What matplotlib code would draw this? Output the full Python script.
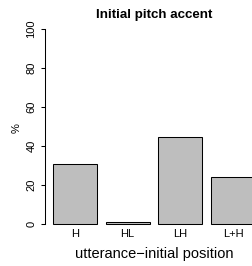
import matplotlib
matplotlib.use("Agg")
import matplotlib.pyplot as plt

categories = ["H", "HL", "LH", "L+H"]
values = [30.8, 0.9, 44.6, 24.1]
yticks = [0, 20, 40, 60, 80, 100]

plt.rcParams['font.family'] = ['Liberation Sans', 'DejaVu Sans']

W, H = 253, 266
fig = plt.figure(figsize=(W / 100, H / 100), dpi=100)

left_px, right_px = 44.9, 263.0
top_px, bottom_px = 21.2, 231.8
ax = fig.add_axes([left_px / W, 1 - bottom_px / H,
                   (right_px - left_px) / W, (bottom_px - top_px) / H])

xpos = [0.7 + 1.2 * i for i in range(len(categories))]
ax.bar(xpos, values, width=1.0, color="#BEBEBE", edgecolor="black", linewidth=0.75)

ax.set_xlim(0.016, 4.984)
ax.set_ylim(-4, 104)

for s in ["top", "right", "bottom"]:
    ax.spines[s].set_visible(False)
ax.spines["left"].set_bounds(0, 100)
ax.spines["left"].set_linewidth(0.75)

ax.set_yticks(yticks)
ax.set_yticklabels([str(t) for t in yticks], rotation=90, va="center", fontsize=8)
ax.tick_params(axis="y", length=3, width=0.75, pad=3.0)
ax.set_xticks([])

for x, c in zip(xpos, categories):
    ax.text(x, -6.8, c, ha="center", va="baseline", fontsize=8)

cx = ((left_px + right_px) / 2) / W
fig.text(cx, 1 - 18 / H, "Initial pitch accent", ha="center", va="baseline",
         fontsize=9.6, fontweight="bold")
fig.text(cx, 8 / H, "utterance\u2212initial position", ha="center", va="baseline",
         fontsize=10.5)
fig.text(17 / W, 1 - 128 / H, "%", rotation=90, ha="center", va="center", fontsize=8)

fig.savefig("out.png", dpi=100)
